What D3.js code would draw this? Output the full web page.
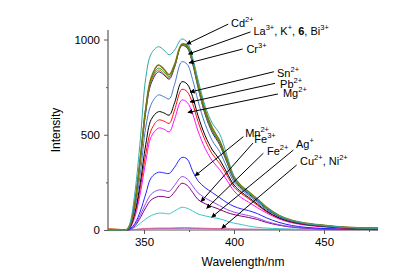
<!DOCTYPE html>
<html>
<head>
<meta charset="utf-8">
<script src="https://cdn.jsdelivr.net/npm/d3@7"></script>
<style>
  html, body { margin: 0; padding: 0; background: #fff; }
  svg { display: block; }
</style>
</head>
<body>
<div class="canvas"></div>
<script>
// wavelength grid (nm) shared by all spectra
const wavelengths = [330, 337, 340, 342, 345, 348, 351, 354, 358, 361, 364, 367, 371, 374, 377, 380,
  384, 388, 392, 396, 400, 404, 408, 413, 418, 425, 432, 440, 450, 460, 470, 480];

// emission intensities
const cd = [0, 0, 0, 30, 200, 480, 800, 925, 962, 945, 920, 945, 1003, 985, 905, 790, 650, 560, 505, 395, 280, 228, 198, 160, 118, 75, 50, 34, 24, 15, 11, 9];
const la = [0, 0, 0, 20, 150, 380, 640, 800, 866, 845, 815, 870, 975, 968, 890, 770, 630, 535, 470, 375, 280, 232, 202, 162, 120, 77, 52, 36, 25, 16, 12, 10];
const k = [0, 0, 0, 22, 155, 390, 645, 790, 850, 832, 805, 862, 972, 962, 882, 760, 618, 522, 458, 365, 272, 226, 196, 157, 116, 74, 50, 34, 23, 15, 11, 9];
const ligand6 = [8, 3, 0, 20, 148, 375, 630, 780, 840, 822, 797, 858, 970, 958, 878, 755, 612, 518, 455, 362, 270, 224, 195, 156, 116, 75, 51, 35, 24, 16, 12, 10];
const bi = [0, 0, 0, 18, 140, 365, 620, 770, 830, 815, 792, 855, 968, 955, 872, 748, 605, 510, 448, 356, 265, 220, 190, 152, 112, 72, 49, 33, 22, 14, 10, 8];
const cr = [0, 0, 0, 15, 115, 300, 540, 660, 709, 700, 688, 765, 883, 870, 790, 678, 555, 468, 412, 330, 252, 212, 182, 145, 106, 68, 46, 31, 20, 13, 9, 7];
const sn = [0, 0, 0, 12, 95, 250, 450, 580, 621, 615, 603, 668, 778, 766, 700, 600, 495, 420, 370, 302, 236, 200, 172, 136, 100, 64, 43, 29, 19, 12, 8, 6];
const pb = [0, 0, 0, 10, 85, 225, 400, 525, 577, 572, 560, 630, 738, 726, 664, 570, 470, 398, 350, 288, 225, 192, 165, 130, 96, 62, 41, 28, 18, 11, 8, 6];
const mg = [0, 0, 0, 8, 70, 195, 360, 490, 535, 530, 515, 582, 682, 670, 610, 520, 428, 362, 318, 262, 205, 170, 147, 117, 90, 58, 38, 25, 16, 10, 7, 5];
const mn = [0, 0, 0, 4, 35, 100, 190, 275, 303, 300, 297, 330, 381, 372, 310, 258, 222, 196, 170, 144, 124, 111, 102, 86, 64, 40, 24, 14, 8, 5, 3, 2];
const fe3 = [0, 0, 0, 3, 28, 80, 140, 188, 210, 208, 203, 235, 280, 268, 232, 195, 168, 148, 128, 108, 94, 84, 76, 63, 45, 28, 17, 10, 6, 4, 3, 2];
const fe2 = [0, 0, 0, 2, 22, 65, 118, 158, 176, 175, 171, 200, 245, 234, 198, 160, 138, 122, 108, 92, 81, 73, 66, 55, 40, 25, 15, 9, 5, 4, 3, 2];
const ag = [0, 0, 0, 2, 14, 36, 58, 76, 88, 88, 85, 100, 119, 114, 100, 84, 74, 66, 59, 47, 36, 29, 21, 14, 10, 7, 5, 4, 3, 3, 2, 2];
const cu = [2, 1, 0, 1, 3, 6, 8, 9, 10, 10, 10, 11, 12, 12, 11, 10, 9, 8, 7, 6, 5, 5, 4, 4, 3, 3, 3, 2, 2, 2, 2, 2];
const ni = [3, 2, 1, 1, 2, 4, 6, 7, 8, 8, 8, 8, 9, 9, 8, 8, 7, 6, 6, 5, 4, 4, 4, 3, 3, 3, 2, 2, 2, 2, 2, 2];

// drawing order: lowest first
const seriesNames = ["Ni", "Cu", "Ag", "Fe2", "Fe3", "Mn", "Mg", "Pb", "Sn", "Cr", "Bi", "6", "K", "La", "Cd"];
const seriesValues = [ni, cu, ag, fe2, fe3, mn, mg, pb, sn, cr, bi, ligand6, k, la, cd];
const seriesColors = ["#8c70c8", "#e0609a", "#3cc8c8", "#800080", "#9a48f0", "#2424ff", "#ff10ff", "#ff1010",
  "#000000", "#4a78c4", "#1c1c98", "#c8601c", "#109a10", "#7c7410", "#33a6a6"];

const yTicks = [0, 500, 1000];
const yMinor = [250, 750];
const xTicks = [350, 400, 450];
const xMinor = [375, 425, 475];

// annotations: text parts, text anchor (nm, intensity), arrow tail and tip (nm, intensity)
const labelParts = [
  [["Cd", ""], ["2+", "sup"]],
  [["La", ""], ["3+", "sup"], [", K", ""], ["+", "sup"], [", ", ""], ["6", "b"], [", Bi", ""], ["3+", "sup"]],
  [["Cr", ""], ["3+", "sup"]],
  [["Sn", ""], ["2+", "sup"]],
  [["Pb", ""], ["2+", "sup"]],
  [["Mg", ""], ["2+", "sup"]],
  [["Mn", ""], ["2+", "sup"]],
  [["Fe", ""], ["3+", "sup"]],
  [["Fe", ""], ["2+", "sup"]],
  [["Ag", ""], ["+", "sup"]],
  [["Cu", ""], ["2+", "sup"], [", Ni", ""], ["2+", "sup"]]
];
const labelAt = [[398.3, 1066], [410.8, 1026], [406.9, 928], [423.9, 803], [425.6, 743], [427.2, 696],
  [406.2, 488], [411.3, 457], [418.3, 394], [434.4, 433], [436.7, 341]];
const arrowFrom = [[396.8, 1081], [409.2, 1040], [404.8, 950], [422.2, 831], [422.8, 770], [424.4, 714],
  [405.2, 490], [410.6, 457], [416.3, 403], [433, 420], [434.8, 341]];
const arrowTo = [[373.7, 976], [374.7, 924], [375, 877], [375.6, 724], [375.6, 672], [374.4, 617],
  [378.3, 284], [381.7, 149], [384.8, 114], [387.6, 67], [393.2, 9]];

const width = 403, height = 275;
const margin = { top: 30, right: 25, bottom: 45, left: 108 };

const x = d3.scaleLinear().domain([330, 480]).range([margin.left, width - margin.right]);
const y = d3.scaleLinear().domain([0, 1050]).range([height - margin.bottom, margin.top]);

const svg = d3.select(".canvas").append("svg")
  .attr("width", width)
  .attr("height", height)
  .attr("viewBox", [0, 0, width, height])
  .style("font-family", "'Liberation Sans', Arial, sans-serif");

svg.append("defs").append("marker")
  .attr("id", "head")
  .attr("viewBox", "0 0 10 10")
  .attr("refX", 9).attr("refY", 5)
  .attr("markerWidth", 5).attr("markerHeight", 5)
  .attr("markerUnits", "userSpaceOnUse")
  .attr("orient", "auto")
  .append("path").attr("d", "M0,0L10,5L0,10z").attr("fill", "#000");

// axes
const axisColor = "#5a5a5a";
const gx = svg.append("g").attr("transform", `translate(0,${y(0)})`)
  .call(d3.axisBottom(x).tickValues(xTicks).tickSize(4).tickPadding(4).tickFormat(d3.format("d")));
svg.append("g").attr("transform", `translate(0,${y(0)})`)
  .call(d3.axisBottom(x).tickValues(xMinor).tickSize(2).tickFormat(""))
  .call(g => g.select(".domain").remove());
const gy = svg.append("g").attr("transform", `translate(${margin.left},0)`)
  .call(d3.axisLeft(y).tickValues(yTicks).tickSize(4).tickPadding(4).tickFormat(d3.format("d")));
svg.append("g").attr("transform", `translate(${margin.left},0)`)
  .call(d3.axisLeft(y).tickValues(yMinor).tickSize(2).tickFormat(""))
  .call(g => g.select(".domain").remove());

svg.selectAll(".domain").attr("stroke", axisColor).attr("stroke-width", 1.2);
svg.selectAll(".tick line").attr("stroke", axisColor);
svg.selectAll(".tick text").attr("fill", "#000").attr("font-size", 11.5)
  .attr("font-family", "'Liberation Sans', Arial, sans-serif");
gx.select(".domain").attr("d", `M${x(330)},0H${x(480)}`);
gy.select(".domain").attr("d", `M0,${y(0)}V${y(1050)}`);

// axis titles
svg.append("text")
  .attr("x", (x(330) + x(480)) / 2 + 0)
  .attr("y", 266)
  .attr("text-anchor", "middle")
  .attr("font-size", 12)
  .text("Wavelength/nm");
svg.append("text")
  .attr("transform", `translate(60,${(y(0) + y(1050)) / 2}) rotate(-90)`)
  .attr("text-anchor", "middle")
  .attr("font-size", 12)
  .text("Intensity");

// spectra
const line = d3.line()
  .x((d, i) => x(wavelengths[i]))
  .y(d => y(d))
  .curve(d3.curveCatmullRom.alpha(0.5));

svg.append("g")
  .attr("fill", "none")
  .selectAll("path")
  .data(seriesValues)
  .join("path")
  .attr("stroke", (d, i) => seriesColors[i])
  .attr("stroke-width", (d, i) => seriesNames[i] === "La" ? 1.5 : 1)
  .attr("d", line);

// arrows and labels
const ann = svg.append("g");
ann.selectAll("line")
  .data(arrowFrom)
  .join("line")
  .attr("x1", d => x(d[0]))
  .attr("y1", d => y(d[1]))
  .attr("x2", (d, i) => x(arrowTo[i][0]))
  .attr("y2", (d, i) => y(arrowTo[i][1]))
  .attr("stroke", "#000")
  .attr("stroke-width", 1)
  .attr("marker-end", "url(#head)");

const texts = ann.selectAll("text")
  .data(labelParts)
  .join("text")
  .attr("x", (d, i) => x(labelAt[i][0]))
  .attr("y", (d, i) => y(labelAt[i][1]))
  .attr("font-size", 11);

texts.each(function (parts) {
  const t = d3.select(this);
  let raised = false;
  parts.forEach(p => {
    const span = t.append("tspan").text(p[0]);
    if (p[1] === "sup") {
      span.attr("font-size", 7.5).attr("dy", raised ? 0 : -5);
      raised = true;
    } else {
      if (raised) span.attr("dy", 5);
      raised = false;
      if (p[1] === "b") span.attr("font-weight", "bold");
    }
  });
});
</script>
</body>
</html>
